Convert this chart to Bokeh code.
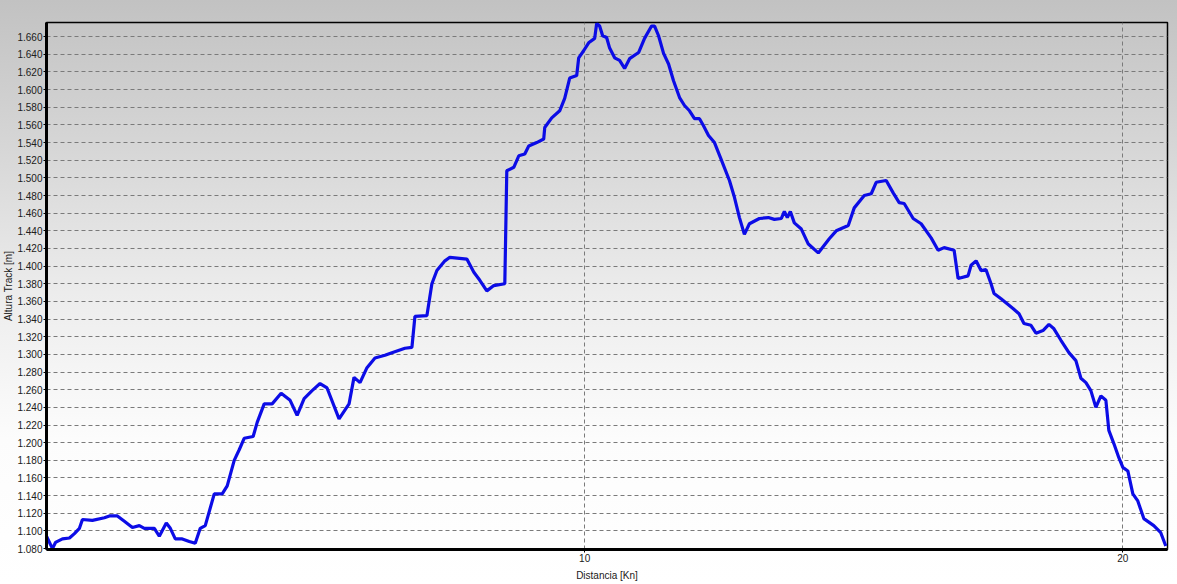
from bokeh.plotting import figure
from bokeh.models import FixedTicker, CustomJSTickFormatter, Range1d
from bokeh.embed import file_html
from bokeh.resources import INLINE

# Track profile: distance [km] and altitude [m]
distance_km = [
    0.000, 0.111, 0.167, 0.297, 0.427, 0.519, 0.612, 0.668, 0.853, 1.076,
    1.169, 1.317, 1.447, 1.596, 1.725, 1.818, 2.004, 2.096, 2.226, 2.301,
    2.393, 2.523, 2.653, 2.764, 2.857, 2.950, 3.117, 3.265, 3.358, 3.488,
    3.581, 3.673, 3.840, 3.915, 4.045, 4.193, 4.360, 4.527, 4.657, 4.787,
    4.935, 5.083, 5.213, 5.436, 5.622, 5.714, 5.826, 5.955, 6.104, 6.289,
    6.419, 6.660, 6.790, 6.846, 7.069, 7.161, 7.254, 7.403, 7.495, 7.811,
    7.941, 8.052, 8.182, 8.312, 8.516, 8.553, 8.683, 8.776, 8.887, 8.961,
    9.109, 9.239, 9.258, 9.388, 9.536, 9.629, 9.722, 9.852, 9.889, 9.981,
    10.074, 10.186, 10.223, 10.278, 10.334, 10.408, 10.464, 10.557, 10.649, 10.742,
    10.835, 11.002, 11.113, 11.243, 11.299, 11.373, 11.466, 11.559, 11.651, 11.763,
    11.855, 11.948, 12.041, 12.134, 12.208, 12.301, 12.412, 12.523, 12.690, 12.783,
    12.876, 12.968, 13.061, 13.247, 13.414, 13.525, 13.655, 13.711, 13.766, 13.822,
    13.896, 14.026, 14.156, 14.341, 14.545, 14.675, 14.898, 15.009, 15.195, 15.325,
    15.417, 15.603, 15.733, 15.844, 15.937, 16.104, 16.252, 16.438, 16.568, 16.679,
    16.865, 16.939, 17.124, 17.180, 17.273, 17.365, 17.458, 17.551, 17.607, 17.737,
    17.959, 18.071, 18.163, 18.293, 18.386, 18.516, 18.627, 18.720, 18.850, 18.998,
    19.128, 19.221, 19.314, 19.406, 19.499, 19.592, 19.685, 19.740, 19.833, 19.926,
    20.000, 20.093, 20.186, 20.278, 20.390, 20.575, 20.705, 20.798,
]
altitude_m = [
    1094, 1080, 1087, 1091, 1092, 1097, 1103, 1113, 1112, 1115,
    1117, 1117, 1111, 1104, 1106, 1103, 1103, 1094, 1109, 1103,
    1091, 1091, 1088, 1086, 1103, 1106, 1142, 1142, 1151, 1180,
    1192, 1205, 1207, 1223, 1244, 1244, 1256, 1248, 1231, 1250,
    1259, 1267, 1262, 1227, 1244, 1274, 1268, 1285, 1296, 1299,
    1302, 1307, 1308, 1343, 1344, 1380, 1395, 1406, 1410, 1408,
    1393, 1384, 1372, 1378, 1380, 1508, 1512, 1525, 1527, 1536,
    1540, 1544, 1557, 1568, 1576, 1590, 1613, 1616, 1636, 1644,
    1653, 1658, 1675, 1672, 1661, 1659, 1647, 1636, 1633, 1624,
    1635, 1642, 1658, 1672, 1672, 1661, 1641, 1629, 1610, 1591,
    1582, 1576, 1567, 1567, 1559, 1548, 1540, 1523, 1497, 1478,
    1455, 1436, 1448, 1454, 1455, 1453, 1454, 1462, 1455, 1462,
    1449, 1442, 1425, 1415, 1431, 1440, 1446, 1466, 1480, 1482,
    1495, 1497, 1483, 1472, 1471, 1454, 1448, 1432, 1418, 1421,
    1418, 1386, 1389, 1401, 1406, 1395, 1396, 1380, 1369, 1363,
    1352, 1346, 1335, 1333, 1324, 1327, 1334, 1329, 1316, 1302,
    1293, 1273, 1268, 1259, 1240, 1253, 1248, 1214, 1199, 1183,
    1172, 1168, 1142, 1134, 1114, 1106, 1098, 1083,
]

y_ticks = list(range(1080, 1661, 20))
x_ticks = [10, 20]

p = figure(
    width=1177, height=584,
    output_backend="svg", toolbar_location=None,
    x_range=Range1d(0, 20.83), y_range=Range1d(1079, 1676),
    min_border_left=44, min_border_right=10, min_border_top=22, min_border_bottom=35,
)
p.background_fill_color = None
p.border_fill_color = None
p.styles = {"background": "linear-gradient(to bottom, #c2c2c2 0%, #d6d6d6 25%, #ececec 50%, #fcfcfc 75%, #ffffff 100%)"}
p.outline_line_color = "black"
p.outline_line_width = 1.5

p.line(distance_km, altitude_m, line_color="#0c0ce6", line_width=3.2)

# axes
p.yaxis.ticker = FixedTicker(ticks=y_ticks)
p.yaxis.formatter = CustomJSTickFormatter(code="return (tick/1000).toFixed(3);")
p.xaxis.ticker = FixedTicker(ticks=x_ticks)
for ax in (p.xaxis, p.yaxis):
    ax.axis_line_color = "black"
    ax.axis_line_width = 3
    ax.major_tick_line_color = "black"
    ax.major_tick_out = 3
    ax.major_tick_in = 0
    ax.minor_tick_line_color = None
    ax.major_label_text_font = "Liberation Sans"
    ax.major_label_text_font_size = "10px"
    ax.major_label_text_color = "#202020"
    ax.major_label_standoff = 1
    ax.axis_label_text_font = "Liberation Sans"
    ax.axis_label_text_font_size = "10px"
    ax.axis_label_text_font_style = "normal"
    ax.axis_label_text_color = "#202020"
p.yaxis.axis_label_standoff = 0
p.xaxis.axis_label_standoff = 5

p.xaxis.axis_label = "Distancia [Kn]"
p.yaxis.axis_label = "Altura Track [m]"

# grids
p.ygrid.ticker = FixedTicker(ticks=y_ticks)
p.xgrid.ticker = FixedTicker(ticks=x_ticks)
for g in (p.xgrid, p.ygrid):
    g.grid_line_color = "#7a7a7a"
    g.grid_line_dash = "4 3"
    g.grid_line_width = 1

open("out.html", "w").write(file_html(p, INLINE))
